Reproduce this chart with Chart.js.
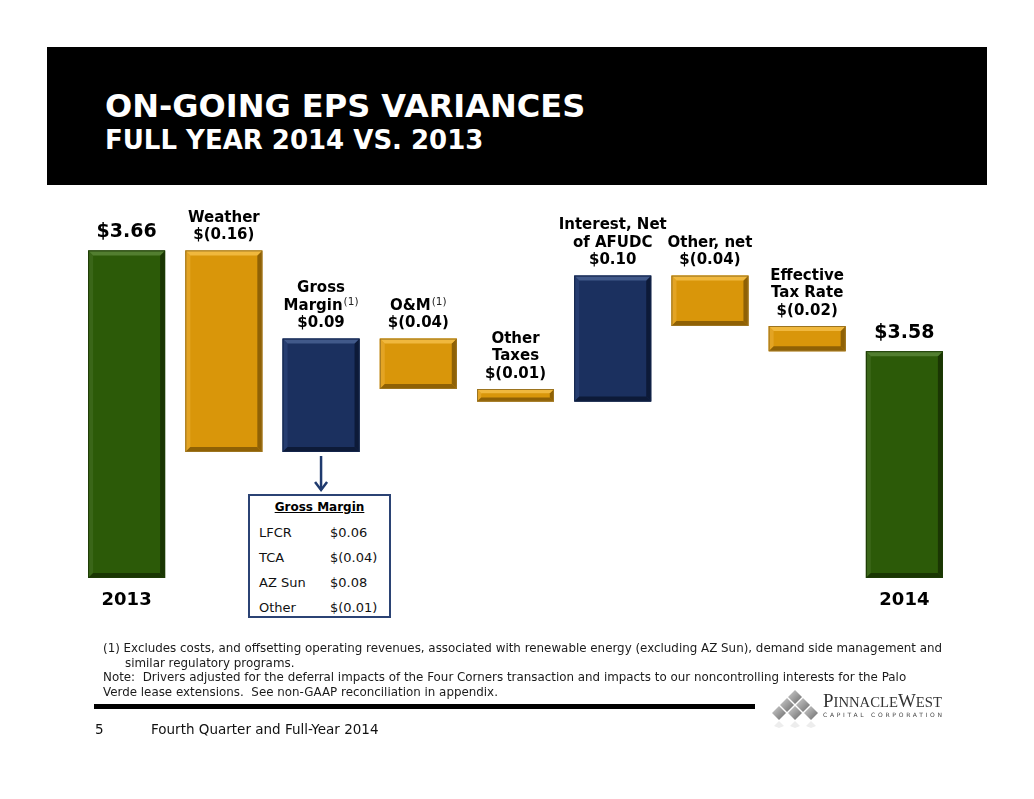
<!DOCTYPE html>
<html>
<head>
<meta charset="utf-8">
<title>On-Going EPS Variances</title>
<script src="https://cdn.jsdelivr.net/npm/chart.js@4.4.1/dist/chart.umd.min.js"></script>
<style>
  body {
    margin: 0;
    width: 1034px;
    height: 799px;
    background: #fff;
    position: relative;
    overflow: hidden;
    font-family: "DejaVu Sans", Verdana, sans-serif;
    color: #000;
  }
  #chart { position: absolute; left: 0; top: 0; }
  #header {
    position: absolute; left: 47px; top: 47px;
    width: 940px; height: 138px; background: #000;
  }
  .title {
    position: absolute; left: 58px; color: #fff; font-weight: bold;
    white-space: nowrap;
  }
  #t1 { top: 43px; font-size: 32px; line-height: 32px; }
  #t2 { top: 80px; font-size: 26px; line-height: 26px; }
  #gm {
    position: absolute; left: 248px; top: 494px;
    width: 139px; height: 120px; border: 2px solid #2b4374; background: #fff;
  }
  #gm .head {
    position: absolute; left: 0; right: 0; top: 3px; text-align: center;
    font-size: 12px; font-weight: bold; text-decoration: underline; line-height: 16px;
  }
  #gm .row { position: absolute; font-size: 13px; line-height: 18px; white-space: nowrap; color: #111; }
  .note {
    position: absolute; font-size: 11.88px; line-height: 14.5px; white-space: pre; color: #1a1a1a;
  }
  #rule { position: absolute; left: 94px; top: 704px; width: 661px; height: 5px; background: #000; }
  .foot { position: absolute; top: 723px; font-size: 13.5px; line-height: 13.5px; color: #111; white-space: nowrap; }
  #logo { position: absolute; left: 768px; top: 686px; }
</style>
</head>
<body>
<canvas id="chart" width="1034" height="799"></canvas>

<div id="header">
  <div class="title" id="t1">ON-GOING EPS VARIANCES</div>
  <div class="title" id="t2">FULL YEAR 2014 VS. 2013</div>
</div>

<div id="gm"></div>

<div class="note" style="left:103px;top:641px">(1) Excludes costs, and offsetting operating revenues, associated with renewable energy (excluding AZ Sun), demand side management and</div>
<div class="note" style="left:125px;top:655.5px">similar regulatory programs.</div>
<div class="note" style="left:103px;top:670px">Note:  Drivers adjusted for the deferral impacts of the Four Corners transaction and impacts to our noncontrolling interests for the Palo</div>
<div class="note" style="left:103px;top:684.5px">Verde lease extensions.  See non-GAAP reconciliation in appendix.</div>

<div id="rule"></div>
<div class="foot" style="left:95px">5</div>
<div class="foot" style="left:151px">Fourth Quarter and Full-Year 2014</div>

<svg id="logo" width="180" height="42">
  <defs>
    <linearGradient id="dg" x1="0" y1="0" x2="1" y2="1">
      <stop offset="0" stop-color="#d0d0d0"/>
      <stop offset="1" stop-color="#6a6a6a"/>
    </linearGradient>
  </defs>
  <g fill="url(#dg)">
    <polygon points="27,4 34,11 27,18 20,11"/>
    <polygon points="19,12 26,19 19,26 12,19"/>
    <polygon points="35,12 42,19 35,26 28,19"/>
    <polygon points="11,20 18,27 11,34 4,27"/>
    <polygon points="27,20 34,27 27,34 20,27"/>
    <polygon points="43,20 50,27 43,34 36,27"/>
  </g>
  <g fill="#999" opacity="0.18">
    <polygon points="11,35 16,40 11,42 6,40"/>
    <polygon points="27,35 32,40 27,42 22,40"/>
    <polygon points="43,35 48,40 43,42 38,40"/>
  </g>
  <text x="55" y="21" font-family="Liberation Serif, serif" fill="#333" textLength="119" lengthAdjust="spacingAndGlyphs">
    <tspan font-size="18">P</tspan><tspan font-size="14">INNACLE</tspan><tspan font-size="18">W</tspan><tspan font-size="14">EST</tspan>
  </text>
  <text x="55" y="31" font-family="DejaVu Sans, sans-serif" font-size="6" fill="#444" textLength="119" lengthAdjust="spacing">CAPITAL CORPORATION</text>
</svg>

<script>
// Waterfall data
const categories = ["2013", "Weather", "Gross Margin", "O&M", "Other Taxes",
  "Interest, Net of AFUDC", "Other, net", "Effective Tax Rate", "2014"];
const changes = [3.66, -0.16, 0.09, -0.04, -0.01, 0.10, -0.04, -0.02, 3.58];
const isTotal = [true, false, false, false, false, false, false, false, true];
const nameLines = [
  [], ["Weather"], ["Gross", "Margin^(1)"], ["O&M^(1)"], ["Other", "Taxes"],
  ["Interest, Net", "of AFUDC"], ["Other, net"], ["Effective", "Tax Rate"], []
];
const yearLabels = ["2013", "", "", "", "", "", "", "", "2014"];
const axisMin = 3.40;
const axisMax = 3.70;

// Gross margin breakdown box
const gmItems = ["LFCR", "TCA", "AZ Sun", "Other"];
const gmValues = [0.06, -0.04, 0.08, -0.01];

const colors = {
  total: { fill: "#2c5a08", light: "#527e30", side: "#3a6618", dark: "#1a3603", line: "#1d3a05" },
  up:    { fill: "#1b305f", light: "#41598a", side: "#263d70", dark: "#0d1a38", line: "#13244a" },
  down:  { fill: "#d9960a", light: "#f0b83e", side: "#e3a424", dark: "#8f6105", line: "#9c7420" }
};

function money(v) {
  const s = Math.abs(v).toFixed(2);
  return v < 0 ? `$(${s})` : `$${s}`;
}

// running totals -> floating bars
let running = 0;
const bars = changes.map((v, i) => {
  if (isTotal[i]) {
    running = v;
    return [axisMin, v];
  }
  const start = running;
  running = +(running + v).toFixed(2);
  return [start, running];
});

const kind = changes.map((v, i) => isTotal[i] ? "total" : (v > 0 ? "up" : "down"));

// fill the breakdown box
const gm = document.getElementById("gm");
gm.innerHTML = '<div class="head">Gross Margin</div>';
gmItems.forEach((item, i) => {
  const top = 28 + i * 25;
  gm.innerHTML += `<div class="row" style="left:9px;top:${top}px">${item}</div>` +
    `<div class="row" style="left:80px;top:${top}px">${money(gmValues[i])}</div>`;
});

function poly(ctx, pts, color) {
  ctx.beginPath();
  ctx.moveTo(pts[0][0], pts[0][1]);
  pts.slice(1).forEach(p => ctx.lineTo(p[0], p[1]));
  ctx.closePath();
  ctx.fillStyle = color;
  ctx.fill();
}

// bevel look on each bar
const bevelPlugin = {
  id: "bevel",
  afterDatasetsDraw(chart) {
    const ctx = chart.ctx;
    const meta = chart.getDatasetMeta(0);
    meta.data.forEach((bar, i) => {
      const p = bar.getProps(["x", "y", "base", "width"], true);
      const l = p.x - p.width / 2, r = p.x + p.width / 2;
      const t = Math.min(p.y, p.base), b = Math.max(p.y, p.base);
      const e = Math.min(5, (b - t) / 3);
      const c = colors[kind[i]];
      ctx.save();
      poly(ctx, [[l, t], [l + e, t + e], [l + e, b - e], [l, b]], c.side);
      poly(ctx, [[r, t], [r, b], [r - e, b - e], [r - e, t + e]], c.dark);
      poly(ctx, [[l, b], [r, b], [r - e, b - e], [l + e, b - e]], c.dark);
      poly(ctx, [[l, t], [r, t], [r - e, t + e], [l + e, t + e]], c.light);
      ctx.strokeStyle = c.line;
      ctx.lineWidth = 1;
      ctx.strokeRect(l + 0.5, t + 0.5, r - l - 1, b - t - 1);
      ctx.restore();
    });
  }
};

// labels above bars, year labels, arrow to the breakdown box
const labelPlugin = {
  id: "labels",
  afterDraw(chart) {
    const ctx = chart.ctx;
    const meta = chart.getDatasetMeta(0);
    ctx.save();
    ctx.fillStyle = "#000";
    ctx.textBaseline = "middle";
    meta.data.forEach((bar, i) => {
      const p = bar.getProps(["x", "y", "base"], true);
      const t = Math.min(p.y, p.base), b = Math.max(p.y, p.base);
      const big = isTotal[i];
      const size = big ? 19 : 15;
      const lines = nameLines[i].concat([money(changes[i])]);
      const lastY = t - (big ? 18 : 15);
      lines.forEach((line, j) => {
        const cy = lastY - (lines.length - 1 - j) * 17.5;
        const parts = line.split("^");
        ctx.font = `bold ${size}px "DejaVu Sans"`;
        const w1 = ctx.measureText(parts[0]).width;
        let w2 = 0;
        if (parts[1]) {
          ctx.font = `10.5px "DejaVu Sans"`;
          w2 = ctx.measureText(parts[1]).width + 1;
        }
        const x0 = p.x - (w1 + w2) / 2;
        ctx.textAlign = "left";
        ctx.font = `bold ${size}px "DejaVu Sans"`;
        ctx.fillText(parts[0], x0, cy);
        if (parts[1]) {
          ctx.font = `10.5px "DejaVu Sans"`;
          ctx.fillStyle = "#222";
          ctx.fillText(parts[1], x0 + w1 + 1, cy - 4);
          ctx.fillStyle = "#000";
        }
      });
      if (yearLabels[i]) {
        ctx.textAlign = "center";
        ctx.font = `bold 18px "DejaVu Sans"`;
        ctx.fillText(yearLabels[i], p.x, b + 22);
      }
      if (categories[i] === "Gross Margin") {
        const ay0 = b + 4, ay1 = 490;
        ctx.strokeStyle = "#1f3a6e";
        ctx.lineWidth = 2.5;
        ctx.beginPath();
        ctx.moveTo(p.x, ay0);
        ctx.lineTo(p.x, ay1);
        ctx.stroke();
        ctx.beginPath();
        ctx.moveTo(p.x - 6, ay1 - 8);
        ctx.lineTo(p.x, ay1);
        ctx.lineTo(p.x + 6, ay1 - 8);
        ctx.stroke();
      }
    });
    ctx.restore();
  }
};

new Chart(document.getElementById("chart"), {
  type: "bar",
  data: {
    labels: categories,
    datasets: [{
      data: bars,
      backgroundColor: kind.map(k => colors[k].fill),
      borderWidth: 0,
      barPercentage: 0.792,
      categoryPercentage: 1
    }]
  },
  options: {
    responsive: false,
    animation: false,
    layout: { padding: { left: 78, right: 81, top: 200, bottom: 221 } },
    plugins: {
      legend: { display: false },
      tooltip: { enabled: false }
    },
    scales: {
      x: { display: false },
      y: { display: false, min: axisMin, max: axisMax }
    }
  },
  plugins: [bevelPlugin, labelPlugin]
});
</script>
</body>
</html>
